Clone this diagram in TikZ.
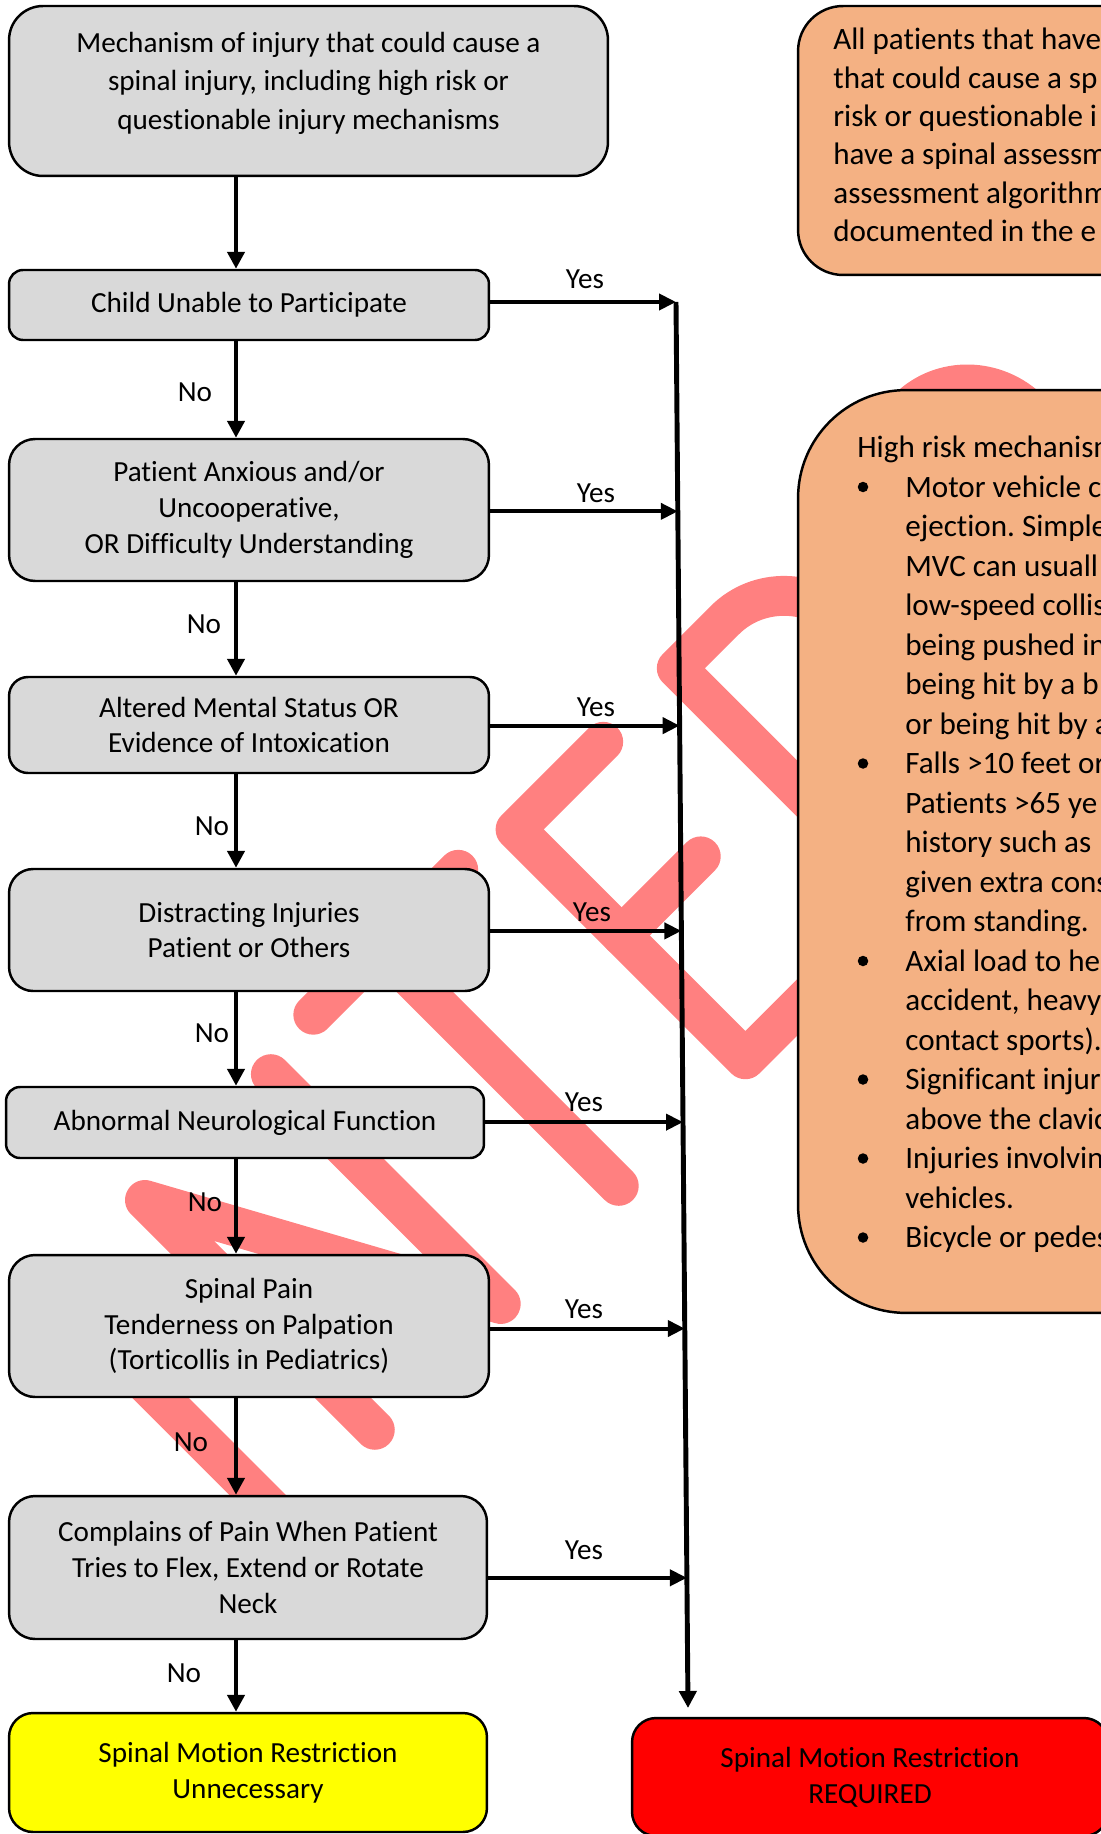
\documentclass[tikz,border=0pt]{standalone}
\usepackage{fontspec}
\setmainfont{Carlito}[Ligatures=NoCommon]
\usetikzlibrary{arrows.meta,calc}
\definecolor{boxgray}{HTML}{D9D9D9}
\definecolor{notebg}{HTML}{F4B183}
\definecolor{wmark}{HTML}{FF8080}
\definecolor{okfill}{HTML}{FFFF00}
\definecolor{reqfill}{HTML}{FF0000}
\frenchspacing
\begin{document}
\begin{tikzpicture}[x=0.02cm,y=-0.02cm,
  wm/.style={draw=wmark,line width=22.7pt,line cap=round,line join=round},
  flow/.style={draw=black,line width=1.4pt,fill=boxgray,align=center,inner sep=0pt,font=\fontsize{16.6pt}{20.4pt}\selectfont},
  notebox/.style={draw=black,line width=1.4pt,fill=notebg,inner sep=0pt},
  notetxt/.style={inner sep=0pt,anchor=base west,font=\fontsize{17.7pt}{22pt}\selectfont},
  bulletdot/.style={circle,fill=black,inner sep=0pt,minimum size=0.21cm},
  lbl/.style={inner sep=0pt,font=\fontsize{16.6pt}{20pt}\selectfont},
  downarr/.style={draw=black,line width=2.55pt,-{Triangle[length=0.34cm,width=0.34cm]}},
  yesarr/.style={draw=black,line width=2.27pt,-{Triangle[length=0.34cm,width=0.32cm]}},
  collect/.style={draw=black,line width=2.8pt,-{Triangle[length=0.34cm,width=0.34cm]}}
]
\useasboundingbox (0,0) rectangle (1101,1834);

% ---------- watermark (behind everything), drawn in the rotated letter frame ----------
\begin{scope}[shift={(145,1200)},rotate=45]
  \draw[wm] (-129,0) -- (-129,325);
  \draw[wm] (0,325) -- (0,0) -- (178,325) -- (178,0);
  \draw[wm] (250,-12) -- (455,-12);
  \draw[wm] (345,-12) -- (345,325);
  \draw[wm] (648,0) -- (524,0) -- (524,325) -- (650,325);
  \draw[wm] (524,150) -- (636,150);
  \draw[wm] (752,325) -- (752,0) -- (820,0) .. controls (867,0) and (905,39.4) .. (905,88) .. controls (905,136.6) and (867,176) .. (820,176) -- (752,176);
  \draw[wm] (800,176) -- (910,325);
  \draw[wm] (1031,305) -- (1031,-20) -- (1099,-20) .. controls (1146,-20) and (1184,19.4) .. (1184,68) .. controls (1184,116.6) and (1146,156) .. (1099,156) -- (1031,156);
\end{scope}

% ---------- note boxes ----------
\node[notebox,minimum width=12.04cm,minimum height=5.38cm,rounded corners=0.9cm] (note1) at (1099,140.5) {};
\node[notebox,minimum width=12.04cm,minimum height=18.46cm,rounded corners=2.16cm] (note2) at (1099,851.5) {};

\foreach \t [count=\i from 0] in {All patients that have,that could cause a sp,risk or questionable i,have a spinal assessm,assessment algorithm,documented in the e}
  \node[notetxt] (na\i) at (833,{50+38.3*\i}) {\t};

\foreach \i/\xx/\t in {0/857/{High risk mechanism},1/905/{Motor vehicle c},2/905/{ejection. Simple},3/905/{MVC can usuall},4/905/{low-speed collis},5/905/{being pushed in},6/905/{being hit by a b},7/905/{or being hit by a},8/905/{Falls >10 feet or},9/905/{Patients >65 ye},10/905/{history such as},11/905/{given extra cons},12/905/{from standing.},13/905/{Axial load to he},14/905/{{accident, heavy}},15/905/{contact sports).},16/905/{Significant injur},17/905/{above the clavic},18/905/{Injuries involvin},19/905/{vehicles.},20/905/{Bicycle or pedes}}
  \node[notetxt] (nb\i) at (\xx,{457.5+39.5*\i}) {\t};
\foreach \i in {1,8,13,16,18,20}
  \node[bulletdot] (bu\i) at (863,{447.5+39.5*\i}) {};

% ---------- flow boxes ----------
\node[flow,minimum width=11.98cm,minimum height=3.4cm,rounded corners=0.68cm] (mech) at (308.5,91) {};
\node[lbl,align=center,font=\fontsize{16.6pt}{21.9pt}\selectfont] (mechtxt) at (308.5,83) {Mechanism of injury that could cause a\\spinal injury, including high risk or\\questionable injury mechanisms};
\node[flow,minimum width=9.6cm,minimum height=1.4cm,rounded corners=0.28cm] (child) at (249,305) {Child Unable to Participate};
\node[flow,minimum width=9.6cm,minimum height=2.84cm,rounded corners=0.52cm] (anx) at (249,510) {Patient Anxious and/or\\Uncooperative,\\OR Difficulty Understanding};
\node[flow,minimum width=9.6cm,minimum height=1.92cm,rounded corners=0.38cm] (alt) at (249,725) {Altered Mental Status OR\\Evidence of Intoxication};
\node[flow,minimum width=9.6cm,minimum height=2.44cm,rounded corners=0.48cm] (dist) at (249,930) {Distracting Injuries\\Patient or Others};
\node[flow,minimum width=9.56cm,minimum height=1.42cm,rounded corners=0.28cm] (neuro) at (245,1122.5) {Abnormal Neurological Function};
\node[flow,minimum width=9.6cm,minimum height=2.84cm,rounded corners=0.52cm] (spine) at (249,1326) {Spinal Pain\\Tenderness on Palpation\\(Torticollis in Pediatrics)};
\node[flow,minimum width=9.56cm,minimum height=2.86cm,rounded corners=0.52cm] (neck) at (248,1567.5) {Complains of Pain When Patient\\Tries to Flex, Extend or Rotate\\Neck};
\node[flow,fill=okfill,minimum width=9.56cm,minimum height=2.38cm,rounded corners=0.48cm] (smrno) at (248,1772.5) {Spinal Motion Restriction\\Unnecessary};
\node[flow,fill=reqfill,minimum width=9.52cm,minimum height=2.36cm,rounded corners=0.48cm] (smryes) at (870,1777) {Spinal Motion Restriction\\REQUIRED};

% ---------- "No" path ----------
\coordinate (ax) at (236,0);
\foreach \a/\b in {mech/child,child/anx,anx/alt,alt/dist,dist/neuro,neuro/spine,spine/neck,neck/smrno}
  \draw[downarr] (\a.south -| ax) -- (\b.north -| ax);

\node[lbl] (no1) at (195,392) {No};
\node[lbl] (no2) at (204,624) {No};
\node[lbl] (no3) at (212,826) {No};
\node[lbl] (no4) at (212,1033) {No};
\node[lbl] (no5) at (205,1202) {No};
\node[lbl] (no6) at (191,1442) {No};
\node[lbl] (no7) at (184,1673) {No};

% ---------- "Yes" path ----------
\coordinate (ctop) at (676,302);
\coordinate (cbot) at (688,1708);
\draw[collect] (ctop) -- (cbot);
\foreach \b/\f [count=\k] in {child/0,anx/0.1489,alt/0.3013,dist/0.4473,neuro/0.5833,spine/0.7301,neck/0.9074}{
  \coordinate (yy\k) at ($(ctop)!\f!(cbot)$);
  \draw[yesarr] (\b.east |- yy\k) -- (yy\k);
}

\node[lbl] (yes1) at (585,279) {Yes};
\node[lbl] (yes2) at (596,493) {Yes};
\node[lbl] (yes3) at (596,707) {Yes};
\node[lbl] (yes4) at (592,912) {Yes};
\node[lbl] (yes5) at (584,1102) {Yes};
\node[lbl] (yes6) at (584,1309) {Yes};
\node[lbl] (yes7) at (584,1550) {Yes};
\end{tikzpicture}
\end{document}
